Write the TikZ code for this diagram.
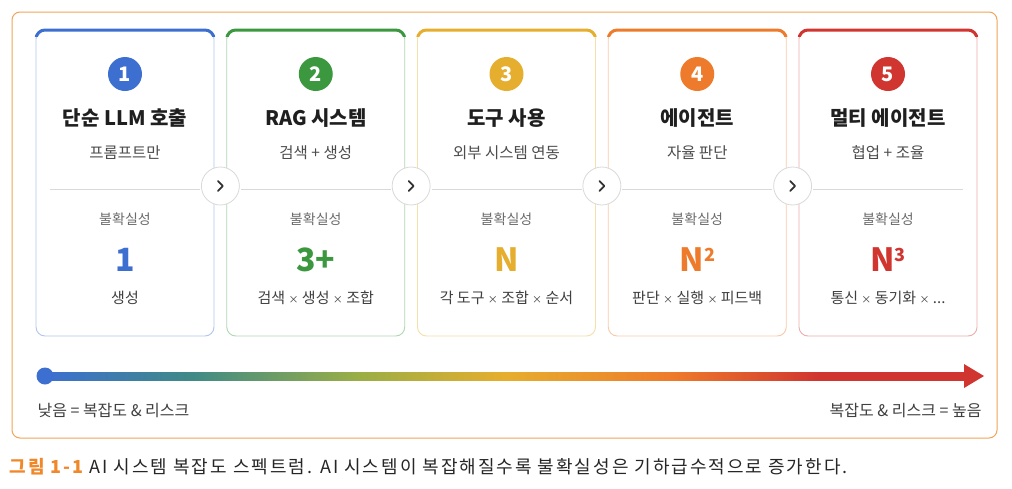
\documentclass[tikz,border=0pt]{standalone}
\usepackage{fontspec}
\setmainfont{Noto Sans CJK KR}
\definecolor{cblue}{HTML}{3D6FD1}
\definecolor{cgreen}{HTML}{3C983F}
\definecolor{cteal}{HTML}{3F8A86}
\definecolor{colive}{HTML}{9AAE45}
\definecolor{cyellow}{HTML}{E6AE2E}
\definecolor{corange}{HTML}{EE7B2B}
\definecolor{cred}{HTML}{D0352F}
\definecolor{cframe}{HTML}{F2A458}
\definecolor{ccap}{HTML}{F0882A}
\definecolor{ink}{HTML}{1F1F1F}
\newcommand\expo[1]{\raisebox{10pt}{\fontsize{18}{18}\selectfont #1}}
\newcommand\tdots{...}
\newcommand\tm{{\fontsize{10}{10}\selectfont ×}}
\pgfdeclarehorizontalshading{spectrum}{100bp}{color(0bp)=(cblue); color(25bp)=(cblue);
  color(33bp)=(cteal); color(42bp)=(colive); color(50bp)=(cyellow); color(59bp)=(corange);
  color(67bp)=(cred); color(75bp)=(cred); color(100bp)=(cred)}

\begin{document}
\begin{tikzpicture}[x=1pt,y=-1pt]
\tikzset{card/.style = {rounded corners=9pt, line width=.9pt, fill=white}}
\tikzset{numdot/.style = {circle, minimum size=34pt, inner sep=0pt, text=white,
  font=\fontsize{20}{20}\selectfont\bfseries}}
\tikzset{chev/.style = {circle, minimum size=38pt, inner sep=0pt, draw=black!15, fill=white, line width=.8pt}}
\tikzset{title/.style = {text=ink, font=\fontsize{20}{20}\selectfont\bfseries}}
\tikzset{sub/.style = {text=black!70, font=\fontsize{15.5}{15.5}\selectfont}}
\tikzset{unc/.style = {text=black!58, font=\fontsize{14}{14}\selectfont}}
\tikzset{val/.style = {font=\fontsize{32}{32}\selectfont\bfseries}}
\tikzset{note/.style = {text=black!75, font=\fontsize{15}{15}\selectfont}}
\tikzset{ends/.style = {text=black!75, font=\fontsize{16}{16}\selectfont}}

   \useasboundingbox (0,0) rectangle (1012,488);
   \fill[white] (0,0) rectangle (1012,488);
   \draw[cframe, line width=1pt, rounded corners=8pt] (12,12) rectangle (997,438);

   % five stages
   \foreach \i/\col/\title/\sub/\val/\bot in {
     1/cblue/단순 LLM 호출/프롬프트만/1/생성,
     2/cgreen/RAG 시스템/검색 + 생성/3+/검색 \tm{} 생성 \tm{} 조합,
     3/cyellow/도구 사용/외부 시스템 연동/N/각 도구 \tm{} 조합 \tm{} 순서,
     4/corange/에이전트/자율 판단/N\expo{2}/판단 \tm{} 실행 \tm{} 피드백,
     5/cred/멀티 에이전트/협업 + 조율/N\expo{3}/통신 \tm{} 동기화 \tm{} \tdots}
   {
     \pgfmathsetmacro\cx{125+190.75*(\i-1)}
     \draw[card, draw=\col!40] (\cx-89,30) rectangle (\cx+89,336);
     \begin{scope}
       \clip (\cx-91,28) rectangle (\cx+91,36);
       \draw[\col, line width=3pt, rounded corners=9pt] (\cx-89,30) rectangle (\cx+89,336);
     \end{scope}
     \node[numdot, fill=\col] (num\i) at (\cx,74) {\i};
     \node[title] (title\i) at (\cx,118) {\title};
     \node[sub] (sub\i) at (\cx,153) {\sub};
     \draw[black!15, line width=.8pt] (\cx-75,189) -- (\cx+75,189);
     \node[unc] (unc\i) at (\cx,219) {불확실성};
     \node[val, text=\col] (val\i) at (\cx,260) {\val};
     \node[note] (bot\i) at (\cx,298) {\bot};
   }

   % arrows between stages
   \foreach \i in {1,2,3,4}
   {
     \pgfmathsetmacro\cx{125+190.75*(\i-.5)}
     \node[chev] (chev\i) at (\cx,186) {};
     \draw[black!80, line width=1.7pt, line cap=round, line join=round]
       ([shift={(-2.5,-5)}]chev\i.center) -- ([shift={(2.5,0)}]chev\i.center) -- ([shift={(-2.5,5)}]chev\i.center);
   }

   % complexity spectrum
   \coordinate (lo) at (45,376);
   \coordinate (hi) at (984,376);
   \shade[shading=spectrum] (lo) ++(0,-4) rectangle (966,380);
   \fill[cblue] (lo) circle (8.5);
   \fill[cred] (hi) -- ++(-20,-12) -- ++(0,24) -- cycle;
   \node[ends, anchor=west] (low) at (34,411) {낮음 = 복잡도 \& 리스크};
   \node[ends, anchor=east] (high) at (985,411) {복잡도 \& 리스크 = 높음};

   \node[anchor=west, text=black!85, font=\fontsize{18}{18}\selectfont\addfontfeature{LetterSpace=11}] (cap) at (6,467)
     {{\color{ccap}\bfseries 그림 1-1} AI 시스템 복잡도 스펙트럼. AI 시스템이 복잡해질수록 불확실성은 기하급수적으로 증가한다.};

\end{tikzpicture}
\end{document}
